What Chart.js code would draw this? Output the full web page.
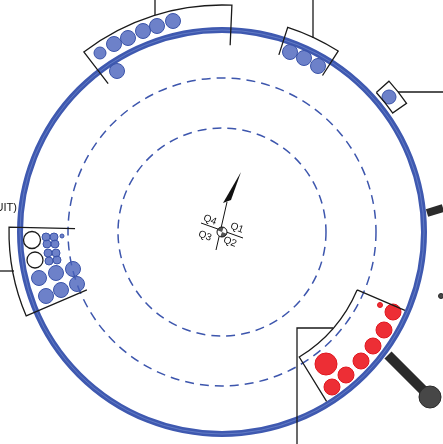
<!DOCTYPE html>
<html>
<head>
<meta charset="utf-8">
<script src="https://cdn.jsdelivr.net/npm/chart.js@4"></script>
<style>
  body { margin: 0; background: #fff; }
  #wrap { width: 443px; height: 444px; }
</style>
</head>
<body>
<div id="wrap"><canvas id="dial"></canvas></div>
<script>
// positions are in dial units, centre of the dial = (0,0), y up; third value = bubble radius
var topLeftDots = [[-122,179,6],[-108,188,7.5],[-94,194,7.5],[-79,201,7.5],[-65,206,7.5],[-49,211,7.5],[-105,161,7.5]];
var topRightDots = [[68,180,7.5],[82,174,7.5],[96,166,7.5]];
var rightDots = [[167,135,7]];
var leftSmallDots = [[-176,-5,4],[-168,-5,4],[-175,-12,4],[-167,-12,4],[-174,-21,4],[-166,-21,4],[-173,-29,4],[-165,-28,4],[-160,-4,2],[-186,-8,2.5],[-184,-28,2.5]];
var leftBigDots = [[-183,-46,7.5],[-166,-41,7.5],[-149,-37,7.5],[-145,-52,7.5],[-161,-58,7.5],[-176,-64,7.5]];
var leftOpen = [[-190,-8,8.5],[-187,-28,8]];
var redDots = [[158,-73,2.5],[171,-80,8],[162,-98,8],[151,-114,8],[139,-129,8],[124,-143,8],[110,-155,8],[104,-132,11]];
var pins = [[208,-165,11],[219,-64,2.5]];

var outerRadius = 202;
var ringRadii = [104, 154];
// sectors: [from deg, to deg (clockwise from up), inner r, outer r, which arc]
var sectors = [
  [-37.5, 2.5, 187, 227, 'outer'],
  [17.8, 32.7, 186, 215, 'outer'],
  [47.9, 55.1, 208, 225, 'both'],
  [113.2, 148.3, 147, 199, 'inner'],
  [246.8, 271.3, 147, 213, 'outer']
];
var leaders = [
  [[-67,217],[-67,232]],
  [[91,194],[91,232]],
  [[176,140],[221,140]],
  [[-208,-39],[-222,-39]],
  [[111,-96],[75,-96],[75,-212]]
];
var sticks = [[[205,19],[221,24],8],[[166,-123],[208,-165],10]];
var quadLabels = [['Q4',-12,12],['Q1',15,4],['Q3',-17,-4],['Q2',8,-10]];

function toPts(arr) {
  return arr.map(function (d) { return { x: d[0], y: d[1], r: d[2] }; });
}

var blue = '#3d56ad';

var dialPlugin = {
  id: 'dial',
  beforeDatasetsDraw: function (chart) {
    var ctx = chart.ctx, xs = chart.scales.x, ys = chart.scales.y;
    var cx = xs.getPixelForValue(0), cy = ys.getPixelForValue(0);
    var k = xs.getPixelForValue(1) - cx;
    ctx.save();
    // dashed rings
    ctx.strokeStyle = blue;
    ctx.lineWidth = 1.5;
    ctx.setLineDash([9, 6]);
    ringRadii.forEach(function (r) {
      ctx.beginPath();
      ctx.arc(cx, cy, r * k, 0, Math.PI * 2);
      ctx.stroke();
    });
    ctx.setLineDash([]);
    // main ring
    ctx.lineWidth = 6;
    ctx.strokeStyle = '#3f59b0';
    ctx.beginPath();
    ctx.arc(cx, cy, outerRadius * k, 0, Math.PI * 2);
    ctx.stroke();
    ctx.lineWidth = 1;
    ctx.strokeStyle = 'rgba(120,145,210,0.6)';
    ctx.beginPath();
    ctx.arc(cx, cy, outerRadius * k, 0, Math.PI * 2);
    ctx.stroke();
    // sticks
    ctx.strokeStyle = '#2b2b2b';
    ctx.lineCap = 'butt';
    sticks.forEach(function (s) {
      ctx.lineWidth = s[2];
      ctx.beginPath();
      ctx.moveTo(xs.getPixelForValue(s[0][0]), ys.getPixelForValue(s[0][1]));
      ctx.lineTo(xs.getPixelForValue(s[1][0]), ys.getPixelForValue(s[1][1]));
      ctx.stroke();
    });
    ctx.restore();
  },
  afterDatasetsDraw: function (chart) {
    var ctx = chart.ctx, xs = chart.scales.x, ys = chart.scales.y;
    var cx = xs.getPixelForValue(0), cy = ys.getPixelForValue(0);
    var k = xs.getPixelForValue(1) - cx;
    var rad = function (deg) { return (deg - 90) * Math.PI / 180; };
    var pt = function (deg, r) {
      return [cx + r * k * Math.cos(rad(deg)), cy + r * k * Math.sin(rad(deg))];
    };
    ctx.save();
    ctx.strokeStyle = '#1a1a1a';
    ctx.lineWidth = 1.3;
    sectors.forEach(function (s) {
      var a = s[0], b = s[1], ri = s[2], ro = s[3];
      var p1 = pt(a, ri), p2 = pt(a, ro), p3 = pt(b, ro), p4 = pt(b, ri);
      ctx.beginPath();
      ctx.moveTo(p1[0], p1[1]);
      ctx.lineTo(p2[0], p2[1]);
      if (s[4] !== 'inner') ctx.arc(cx, cy, ro * k, rad(a), rad(b));
      else ctx.moveTo(p3[0], p3[1]);
      ctx.lineTo(p4[0], p4[1]);
      if (s[4] !== 'outer') ctx.arc(cx, cy, ri * k, rad(b), rad(a), true);
      ctx.stroke();
    });
    leaders.forEach(function (l) {
      ctx.beginPath();
      l.forEach(function (p, i) {
        var X = xs.getPixelForValue(p[0]), Y = ys.getPixelForValue(p[1]);
        if (i === 0) ctx.moveTo(X, Y); else ctx.lineTo(X, Y);
      });
      ctx.stroke();
    });
    // needle
    var P = function (x, y) { return [xs.getPixelForValue(x), ys.getPixelForValue(y)]; };
    ctx.strokeStyle = '#111';
    ctx.lineWidth = 1;
    var a0 = P(-6, -18), a1 = P(5, 30);
    ctx.beginPath(); ctx.moveTo(a0[0], a0[1]); ctx.lineTo(a1[0], a1[1]); ctx.stroke();
    var c0 = P(-21, 9), c1 = P(21, -6);
    ctx.beginPath(); ctx.moveTo(c0[0], c0[1]); ctx.lineTo(c1[0], c1[1]); ctx.stroke();
    var t = P(19, 60), b1 = P(1, 29), b2 = P(9, 32);
    ctx.fillStyle = '#111';
    ctx.beginPath(); ctx.moveTo(t[0], t[1]); ctx.lineTo(b1[0], b1[1]); ctx.lineTo(b2[0], b2[1]); ctx.closePath(); ctx.fill();
    // hub with shaded quadrants
    var rot = 20 * Math.PI / 180;
    ctx.fillStyle = '#fff';
    ctx.beginPath(); ctx.arc(cx, cy, 5, 0, Math.PI * 2); ctx.fill();
    ctx.fillStyle = '#555';
    [Math.PI, 0].forEach(function (st) {
      ctx.beginPath(); ctx.moveTo(cx, cy);
      ctx.arc(cx, cy, 5, st + rot, st + rot + Math.PI / 2);
      ctx.closePath(); ctx.fill();
    });
    ctx.strokeStyle = '#111';
    ctx.beginPath(); ctx.arc(cx, cy, 5, 0, Math.PI * 2); ctx.stroke();
    // quadrant labels
    ctx.fillStyle = '#111';
    ctx.font = '10px "Liberation Sans", Arial, sans-serif';
    ctx.textAlign = 'center';
    ctx.textBaseline = 'middle';
    quadLabels.forEach(function (q) {
      var p = P(q[1], q[2]);
      ctx.save();
      ctx.translate(p[0], p[1]);
      ctx.rotate(rot);
      ctx.fillText(q[0], 0, 0);
      ctx.restore();
    });
    // side label (cut by the edge)
    ctx.font = '11px "Liberation Sans Narrow", "Liberation Sans", Arial, sans-serif';
    ctx.textAlign = 'right';
    var lp = P(-205, 24);
    ctx.fillText('(CIRCUIT)', lp[0], lp[1]);
    ctx.restore();
  }
};

var dotFill = 'rgba(72,98,188,0.8)';
var dotLine = '#3a53a8';

var ctx = document.getElementById('dial').getContext('2d');
new Chart(ctx, {
  type: 'bubble',
  data: {
    datasets: [
      { data: toPts(topLeftDots), backgroundColor: dotFill, borderColor: dotLine, borderWidth: 1 },
      { data: toPts(topRightDots), backgroundColor: dotFill, borderColor: dotLine, borderWidth: 1 },
      { data: toPts(rightDots), backgroundColor: dotFill, borderColor: dotLine, borderWidth: 1 },
      { data: toPts(leftBigDots), backgroundColor: dotFill, borderColor: dotLine, borderWidth: 1 },
      { data: toPts(leftOpen), backgroundColor: '#fff', borderColor: '#1a1a1a', borderWidth: 1.3 },
      { data: toPts(leftSmallDots), backgroundColor: dotFill, borderColor: dotLine, borderWidth: 1 },
      { data: toPts(redDots), backgroundColor: 'rgba(236,28,36,0.92)', borderColor: '#e0161e', borderWidth: 1 },
      { data: toPts(pins), backgroundColor: '#474747', borderColor: '#2a2a2a', borderWidth: 1 }
    ]
  },
  options: {
    responsive: true,
    maintainAspectRatio: false,
    animation: false,
    layout: { padding: 0, autoPadding: false },
    plugins: { legend: { display: false }, tooltip: { enabled: false } },
    events: [],
    scales: {
      x: { type: 'linear', min: -222, max: 221, display: false },
      y: { type: 'linear', min: -212, max: 232, display: false }
    }
  },
  plugins: [dialPlugin]
});
</script>
</body>
</html>
